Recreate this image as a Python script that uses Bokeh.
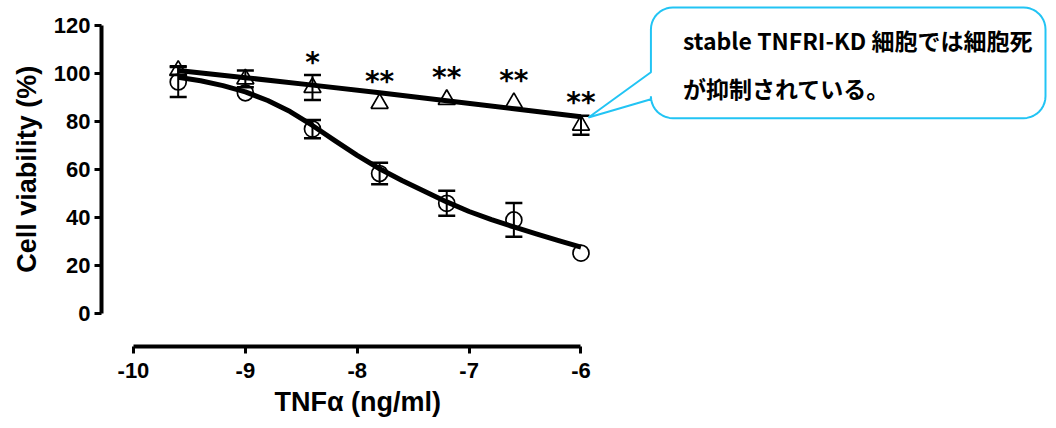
import math
from bokeh.plotting import figure
from bokeh.models import Range1d, FixedTicker, Whisker, TeeHead, ColumnDataSource, Title
from bokeh.core.properties import value
from bokeh.embed import file_html
from bokeh.resources import INLINE

# ---------------- data ----------------
log_tnf = [-9.6, -9.0, -8.4, -7.8, -7.2, -6.6, -6.0]
ctrl_mean = [96.5, 92.0, 76.9, 58.4, 46.0, 39.1, 25.3]
ctrl_sem = [6.2, 0.0, 3.8, 4.5, 5.2, 7.0, 0.0]
kd_mean = [101.3, 97.8, 94.2, 87.6, 89.2, 87.9, 78.5]
kd_sem = [1.8, 3.5, 5.2, 0.0, 0.0, 0.0, 4.0]
stars = ["", "", "*", "**", "**", "**", "**"]

ctrl_fit_x = [-9.6, -9.4, -9.2, -9.0, -8.8, -8.6, -8.4, -8.2, -8.0, -7.8,
              -7.6, -7.4, -7.2, -7.0, -6.8, -6.6, -6.4, -6.2, -6.0]
ctrl_fit_y = [98.5, 97.0, 95.0, 92.4, 88.8, 84.2, 78.4, 72.1, 66.0, 60.4,
              55.5, 51.0, 46.6, 42.6, 39.2, 36.2, 33.3, 30.5, 27.8]
kd_fit_x = [-9.6, -9.0, -8.4, -7.8, -7.2, -6.6, -6.0]
kd_fit_y = [101.3, 98.3, 95.2, 92.0, 88.7, 85.4, 82.0]

x_ticks = [-10, -9, -8, -7, -6]
x_tick_labels = ["-10", "-9", "-8", "-7", "-6"]
y_ticks = [0, 20, 40, 60, 80, 100, 120]
y_tick_labels = ["0", "20", "40", "60", "80", "100", "120"]

x_title = "TNFα (ng/ml)"
y_title = "Cell viability (%)"
note_lines = ["stable  TNFRI-KD 細胞では細胞死", "が抑制されている。"]

# ---------------- geometry ----------------
W, H = 1048, 420
FL, FR, FT, FB = 100, 1048, 0, 347          # frame edges in canvas px
X0PX, XPER = 132.0, 112.0                   # canvas px of x=-10, px per unit
Y0PX, YPER = 314.3, 2.41                    # canvas px of y=0, px per unit


def dx(px):
    return -10 + (px - X0PX) / XPER


def dy(py):
    return (Y0PX - py) / YPER


p = figure(width=W, height=H, output_backend="svg", toolbar_location=None,
           x_range=Range1d(dx(FL), dx(FR)), y_range=Range1d(dy(FB), dy(FT)),
           min_border_left=FL, min_border_right=0, min_border_top=FT,
           min_border_bottom=H - FB)
p.outline_line_color = None
p.xgrid.grid_line_color = None
p.ygrid.grid_line_color = None
p.background_fill_color = "white"
p.border_fill_color = "white"

for ax in (p.xaxis[0], p.yaxis[0]):
    ax.axis_line_width = 4
    ax.axis_line_color = "black"
    ax.major_tick_line_width = 3
    ax.major_tick_line_color = "black"
    ax.major_tick_in = 0
    ax.major_tick_out = 7
    ax.minor_tick_line_color = None
    ax.major_label_text_font = "Liberation Sans"
    ax.major_label_text_font_style = "bold"
    ax.major_label_text_font_size = "22px"
    ax.major_label_text_color = "black"

p.xaxis.bounds = (x_ticks[0], x_ticks[-1])
p.yaxis.bounds = (y_ticks[0], y_ticks[-1])
p.xaxis.ticker = FixedTicker(ticks=x_ticks)
p.yaxis.ticker = FixedTicker(ticks=y_ticks)
p.xaxis.major_label_overrides = dict(zip(x_ticks, x_tick_labels))
p.yaxis.major_label_overrides = dict(zip(y_ticks, y_tick_labels))
p.xaxis.major_label_standoff = 9
p.yaxis.major_label_standoff = 4

# axis titles, centred on the drawn axis extents (not on the whole frame)
TITLE_PX = 27
x_title_w = 6.15 * TITLE_PX      # approx. rendered text widths
y_title_w = 7.67 * TITLE_PX
x_axis_mid_px = X0PX + ((x_ticks[0] + x_ticks[-1]) / 2 + 10) * XPER
y_axis_mid_px = Y0PX - (y_ticks[0] + y_ticks[-1]) / 2 * YPER
title_style = dict(text_font="Liberation Sans", text_font_style="bold",
                   text_font_size=f"{TITLE_PX}px", text_color="black", align="left")
p.add_layout(Title(text=x_title, offset=x_axis_mid_px - x_title_w / 2 - FL, standoff=8,
                   **title_style), "below")
p.add_layout(Title(text=y_title, offset=FB - (y_axis_mid_px + y_title_w / 2), standoff=18,
                   **title_style), "left")

# ---------------- error bars ----------------
def whisker_source(xs, m, e):
    keep = [i for i in range(len(xs)) if e[i] > 0]
    return ColumnDataSource(dict(x=[xs[i] for i in keep],
                                 lo=[m[i] - e[i] for i in keep],
                                 hi=[m[i] + e[i] for i in keep]))


for m, e in ((ctrl_mean, ctrl_sem), (kd_mean, kd_sem)):
    w = Whisker(source=whisker_source(log_tnf, m, e), base="x", lower="lo", upper="hi",
                dimension="height", line_width=2, line_color="black",
                upper_head=TeeHead(size=17, line_width=2.5, line_color="black"),
                lower_head=TeeHead(size=17, line_width=2.5, line_color="black"))
    p.add_layout(w)

# ---------------- markers ----------------
p.scatter(log_tnf, ctrl_mean, marker="circle", size=16, fill_color=None,
          line_color="black", line_width=1.7)
p.scatter(log_tnf, kd_mean, marker="triangle", size=17, fill_color=None,
          line_color="black", line_width=1.7)

# ---------------- fitted curves ----------------
p.line(ctrl_fit_x, ctrl_fit_y, line_width=5, line_color="black", line_join="round")
p.line(kd_fit_x, kd_fit_y, line_width=5, line_color="black", line_join="round")

# ---------------- significance stars ----------------
star_x = [x for x, s in zip(log_tnf, stars) if s]
star_y = [m + max(e, 3.8) for m, e, s in zip(kd_mean, kd_sem, stars) if s]
star_t = [s for s in stars if s]
p.text(star_x, star_y, text=star_t, text_font=value("DejaVu Sans"),
       text_font_style="bold", text_font_size="28px", text_align="center",
       text_baseline="alphabetic", y_offset=-13, text_color="black")

# ---------------- callout ----------------
L, T, R, B, r = 650, 7, 1045, 118, 22
tip_x, tip_y = 587.5, 117.3
att_top, att_bot = 72, 99
pts = []


def arc(cx, cy, a0, a1, n=10):
    for k in range(n + 1):
        a = math.radians(a0 + (a1 - a0) * k / n)
        pts.append((cx + r * math.cos(a), cy + r * math.sin(a)))


arc(L + r, T + r, 180, 270)
arc(R - r, T + r, 270, 360)
arc(R - r, B - r, 0, 90)
arc(L + r, B - r, 90, 180)
pts.append((L, att_bot))
pts.append((tip_x, tip_y))
pts.append((L, att_top))
pts.append((L, T + r))
p.patch([dx(a) for a, _ in pts], [dy(b) for _, b in pts], fill_color="white",
        line_color="#22C4F4", line_width=2)

p.text([dx(682), dx(682)], [dy(40), dy(88)], text=note_lines,
       text_font=value("Noto Sans CJK JP"), text_font_style="bold",
       text_font_size="23px", text_align="left", text_baseline="middle",
       text_color="black")

open("out.html", "w").write(file_html(p, INLINE))
